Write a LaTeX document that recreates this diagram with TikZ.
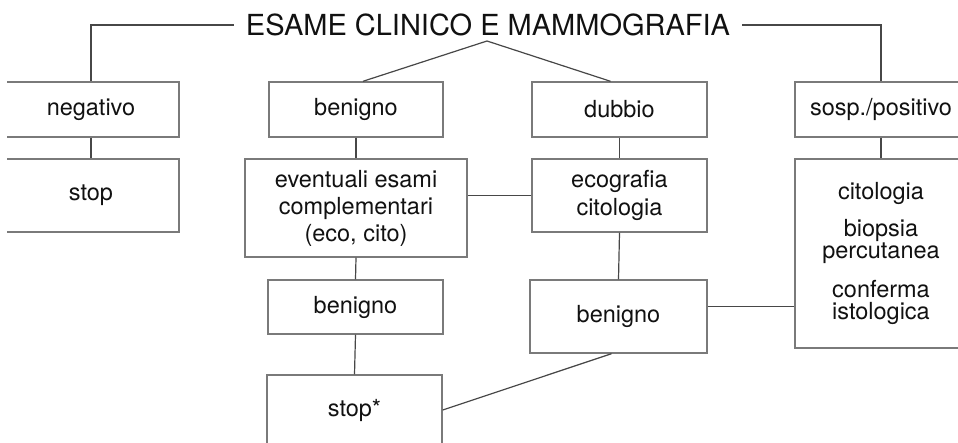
\documentclass[tikz,border=0pt]{standalone}
\usepackage{fontspec}
\setmainfont{TeX Gyre Heros}
\usetikzlibrary{calc}
\definecolor{frame}{HTML}{7A7A7A}
\definecolor{wire}{HTML}{474747}
\definecolor{ink}{HTML}{111111}
\tikzset{every node/.style={font=\fontsize{23.5}{27}\selectfont,text=ink},
  box/.style={draw=frame,line width=1.4pt,align=center,inner sep=0pt},
  link/.style={draw=wire,line width=1.2pt},
  heading/.style={font=\fontsize{29}{32}\selectfont,inner xsep=12pt,inner ysep=2pt}}

\begin{document}
\begin{tikzpicture}[x=1pt,y=-1pt]
\useasboundingbox(0,0)rectangle(958,443);\clip(7,0)rectangle(958,443);
\node[heading](title)at(488,25){ESAME CLINICO E MAMMOGRAFIA};
\coordinate(apex)at(487,41);
% left column
\node[box,minimum width=176pt,minimum height=55pt](neg)at(91,109.5){negativo};
\node[box,minimum width=176pt,minimum height=73pt](stop)at(91,195.5){stop};
% benigno branch
\node[box,minimum width=174pt,minimum height=55pt](ben1)at(356,109.5){benigno};
\node[box,minimum width=222pt,minimum height=98pt](exams)at(356,208){eventuali esami\\complementari\\(eco, cito)};
\node[box,minimum width=175pt,minimum height=54pt](ben2)at(355.5,307){benigno};
\node[box,minimum width=175pt,minimum height=70pt](stopx)at(354.5,410){stop*};
% dubbio branch
\node[box,minimum width=175pt,minimum height=55pt](dub)at(619.5,109.5){dubbio};
\node[box,minimum width=175pt,minimum height=73pt,font=\fontsize{23.5}{28}\selectfont](eco)at(619.5,195.5){ecografia\\citologia};
\node[box,minimum width=177pt,minimum height=73pt](ben3)at(618.5,316.5){benigno};
% positive column
\node[box,minimum width=172pt,minimum height=189pt,font=\fontsize{23.5}{22}\selectfont](cito)at(881,253.5){citologia\\[14pt]biopsia\\percutanea\\[15pt]conferma\\istologica};
\node[box,minimum width=172pt,minimum height=55pt](pos)at(881,109.5){sosp./positivo};
% connectors
\draw[link](title.west)-|(neg.north);\draw[link](title.east)-|(pos.north);
\draw[link]($(ben1.north)+(7,0)$)--(apex)--($(dub.north)+(-9,0)$);
\draw[link](neg.south)--(stop.north);\draw[link](ben1.south)--(exams.north);
\draw[link](dub.south)--(eco.north);\draw[link](pos.south)--(cito.north);
\draw[link](eco.west)--(eco.west-|exams.east);
\draw[link](exams.south)--(ben2.north);\draw[link](ben2.south)--(stopx.north);
\draw[link](eco.south)--(ben3.north);
\draw[link]([yshift=10pt]ben3.east)--([yshift=10pt]ben3.east-|cito.west);
\draw[link]([xshift=-7pt]ben3.south)--(stopx.east);
\end{tikzpicture}
\end{document}
